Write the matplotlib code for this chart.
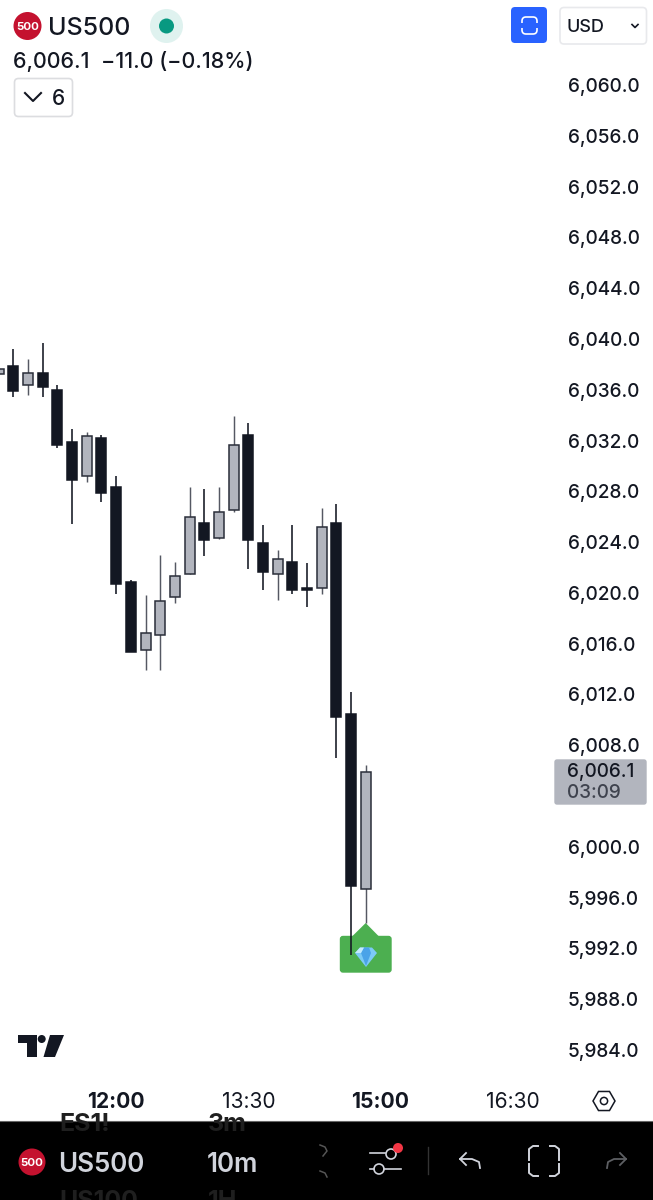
import matplotlib
matplotlib.use("Agg")
import matplotlib.pyplot as plt
from matplotlib.patches import FancyBboxPatch, Polygon, Circle, Ellipse, Rectangle, RegularPolygon

plt.rcParams['font.family'] = ['Inter', 'DejaVu Sans']
plt.rcParams['font.weight'] = 'medium'

# ---- data ----
candle_index = list(range(-1, 25))
opens = [6037.24, 6037.87, 6036.40, 6037.29, 6035.98, 6031.86, 6029.23, 6032.17, 6028.34, 6020.86, 6015.50,
         6016.71, 6019.70, 6021.49, 6025.48, 6024.32, 6026.50, 6032.46, 6023.95, 6021.49, 6022.46, 6020.36,
         6020.41, 6025.48, 6010.46, 5996.68]
highs = [6037.63, 6039.21, 6038.42, 6039.70, 6036.37, 6032.88, 6032.65, 6032.41, 6029.20, 6020.99, 6019.86,
         6022.96, 6022.46, 6028.36, 6028.16, 6028.36, 6033.93, 6033.40, 6025.37, 6023.38, 6025.37, 6022.38,
         6026.68, 6026.98, 6012.17, 6006.44]
lows = [6037.24, 6035.43, 6035.58, 6035.43, 6031.43, 6025.40, 6028.71, 6027.18, 6019.91, 6015.37, 6013.93,
        6013.93, 6019.23, 6021.49, 6022.90, 6024.22, 6026.39, 6021.88, 6020.20, 6019.41, 6019.89, 6018.91,
        6019.89, 6006.97, 5991.45, 5994.00]
closes = [6037.63, 6035.90, 6037.34, 6036.19, 6031.65, 6028.89, 6032.36, 6027.89, 6020.68, 6015.37, 6016.84,
          6019.36, 6021.35, 6025.94, 6024.19, 6026.35, 6031.65, 6024.19, 6021.67, 6022.64, 6020.20, 6020.23,
          6025.16, 6010.20, 5996.94, 6005.92]
price_ticks = [6060, 6056, 6052, 6048, 6044, 6040, 6036, 6032, 6028, 6024, 6020, 6016, 6012, 6008,
               6000, 5996, 5992, 5988, 5984]
time_tick_index = [7, 16, 25, 34]
time_tick_labels = ['12:00', '13:30', '15:00', '16:30']
bold_times = ['12:00', '15:00']

# ---- layout ----
W, H = 653, 1200
CHART_R, CHART_B = 553, 1080
px_per_unit = 965 / 76
step = 14.69
fs = lambda px: px * 72 / 100

fig = plt.figure(figsize=(W / 100, H / 100), dpi=100, facecolor='white')
ax = fig.add_axes([0, 1 - CHART_B / H, CHART_R / W, CHART_B / H], zorder=2)
ax.patch.set_alpha(0)
ui = fig.add_axes([0, 0, 1, 1], zorder=3)
ui.set_xlim(0, W); ui.set_ylim(H, 0); ui.axis('off')
ui.patch.set_alpha(0)
under = fig.add_axes([0, 0, 1, 1], zorder=1)
under.set_xlim(0, W); under.set_ylim(H, 0); under.axis('off')

ax.set_xlim(-13.3 / step, (CHART_R - 13.3) / step)
ax.set_ylim(6060 - (CHART_B - 85) / px_per_unit, 6060 + 85 / px_per_unit)
for s in ax.spines.values():
    s.set_visible(False)

DARK, LIGHT, EDGE = '#131722', '#b2b5be', '#2a2e39'
for i, o, h, l, c in zip(candle_index, opens, highs, lows, closes):
    up = c >= o
    ax.vlines(i, l, h, color='#555863' if up else '#131722', lw=1.05 if up else 1.15, zorder=2)
    ax.bar(i, abs(c - o), bottom=min(o, c), width=0.68, color=LIGHT if up else DARK,
           edgecolor=EDGE if up else DARK, linewidth=1.1, zorder=3)

ax.yaxis.tick_right()
ax.set_yticks(price_ticks)
ax.set_yticklabels([f'{p:,.1f}' for p in price_ticks])
ax.tick_params(axis='y', length=0, pad=10.5, labelsize=fs(19), labelcolor='#131722')
ax.set_xticks(time_tick_index)
ax.set_xticklabels(time_tick_labels)
ax.tick_params(axis='x', length=0, pad=9, labelsize=fs(21), labelcolor='#131722')
for t in ax.get_xticklabels():
    t.set_fontweight('bold' if t.get_text() in bold_times else 'normal')

# signal marker
under.add_patch(FancyBboxPatch((340.5, 936.5), 50.5, 35.5, boxstyle='round,pad=0,rounding_size=2.5', fc='#4caf50', ec='#4caf50', lw=1))
under.add_patch(Polygon([(365.7, 923), (352, 936.5), (379, 936.5)], fc='#4caf50', ec='none'))
ui.add_patch(Polygon([(355, 953), (360, 947.5), (372, 947.5), (377, 953), (366, 967)], fc='#7ccaf6', ec='none'))
ui.add_patch(Polygon([(361, 953), (364, 947.5), (369, 947.5), (371, 953), (366, 966)], fc='#4aa3e8', ec='none'))
ui.add_patch(Polygon([(355, 953), (360, 947.5), (364, 947.5), (361, 953)], fc='#c4ebfd', ec='none'))

# price label
ui.add_patch(FancyBboxPatch((555, 760), 91, 44, boxstyle='round,pad=0,rounding_size=2', fc=LIGHT, ec=LIGHT, lw=1))
ui.text(567, 770, '6,006.1', fontsize=fs(19), color='#131722', va='center_baseline', ha='left')
ui.text(567, 791, '03:09', fontsize=fs(19), color='#3f434e', va='center_baseline', ha='left')

# header
ui.add_patch(Circle((27.5, 26), 14, fc='#c4122f', ec='none'))
ui.text(27.5, 26, '500', color='white', fontsize=fs(11.5), fontweight='bold', ha='center', va='center_baseline')
ui.text(48, 26, 'US500', color='#131722', fontsize=fs(25), ha='left', va='center_baseline')
ui.add_patch(Ellipse((166.5, 26), 33, 34, fc='#dff2ef', ec='none'))
ui.add_patch(Circle((166.5, 26), 7.5, fc='#089981', ec='none'))
ui.text(13, 60, '6,006.1  \u221211.0 (\u22120.18%)', color='#131722', fontsize=fs(21.5), ha='left', va='center_baseline')
ui.add_patch(FancyBboxPatch((14.5, 78.5), 58, 38, boxstyle='round,pad=0,rounding_size=4', fc='white', ec='#dcdde0', lw=1.2))
ui.plot([25, 33, 41], [93, 101, 93], color='#131722', lw=1.5)
ui.text(58, 97, '6', color='#131722', fontsize=fs(21), ha='center', va='center_baseline')
ui.add_patch(FancyBboxPatch((511, 7), 36, 36, boxstyle='round,pad=0,rounding_size=4', fc='#2962ff', ec='none'))
ui.add_patch(FancyBboxPatch((522, 17), 15, 17, boxstyle='round,pad=0,rounding_size=4', fc='none', ec='white', lw=1.2))
ui.add_patch(Rectangle((518, 23), 24, 5, fc='#2962ff', ec='none', zorder=5))
ui.add_patch(FancyBboxPatch((560, 7.5), 86.5, 36.5, boxstyle='round,pad=0,rounding_size=4', fc='white', ec='#e8e9ec', lw=1.2))
ui.text(566, 25.5, 'USD', color='#131722', fontsize=fs(18), ha='left', va='center_baseline')
ui.plot([632, 635, 638], [24.5, 27.5, 24.5], color='#131722', lw=1.2)

# TradingView logo
ui.add_patch(Polygon([(18, 1035), (36.5, 1035), (36.5, 1057), (27, 1057), (27, 1042.5), (18, 1042.5)], fc='#131722', ec='none'))
ui.add_patch(Circle((41.7, 1039), 4, fc='#131722', ec='none'))
ui.add_patch(Polygon([(50, 1035), (64, 1035), (55, 1057), (43.5, 1057)], fc='#131722', ec='none'))

# scale settings icon
ui.add_patch(RegularPolygon((604, 1101), 6, radius=11, orientation=3.14159 / 6, fc='white', ec='#131722', lw=1.1))
ui.add_patch(Circle((604, 1101), 3.6, fc='white', ec='#131722', lw=1.1))

# bottom bar
bar = Rectangle((0, 1121), W, 79, fc='black', ec='none')
ui.add_patch(bar)
ui.plot([0, W], [1120.5, 1120.5], color='#666666', lw=0.8)
for x, y, s in [(59, 1122, 'ES1!'), (208, 1122, '3m'), (59, 1199, 'US100'), (208, 1199, '1H')]:
    t = ui.text(x, y, s, color='#1f1f1f', fontsize=fs(25), fontweight='bold', ha='left', va='center_baseline')
    t.set_clip_path(bar)
ui.add_patch(Circle((32, 1162), 13.5, fc='#c4122f', ec='none'))
ui.text(32, 1162, '500', color='white', fontsize=fs(11.5), fontweight='bold', ha='center', va='center_baseline')
ui.text(58, 1161.5, 'US500', color='#d1d4dc', fontsize=fs(26), fontweight='semibold', ha='left', va='center_baseline')
ui.text(207, 1161.5, '10m', color='#d1d4dc', fontsize=fs(26), fontweight='semibold', ha='left', va='center_baseline')
ui.plot([320, 325, 327, 323], [1145, 1147, 1151, 1156], color='#555555', lw=1.1)
ui.plot([320, 325, 327], [1171, 1173, 1177], color='#555555', lw=1.1)
ui.plot([370, 385], [1153, 1153], color='#d1d4dc', lw=1.2)
ui.add_patch(Circle((391, 1154), 5, fc='none', ec='#d1d4dc', lw=1.2))
ui.add_patch(Circle((398, 1148), 5, fc='#f23645', ec='none'))
ui.plot([370, 374], [1169, 1169], color='#d1d4dc', lw=1.2)
ui.add_patch(Circle((379, 1169), 5, fc='none', ec='#d1d4dc', lw=1.2))
ui.plot([384, 401], [1169, 1169], color='#d1d4dc', lw=1.2)
ui.plot([428, 428], [1147, 1174], color='#333333', lw=1)
ui.plot([466, 460, 466], [1153, 1159, 1165], color='#d1d4dc', lw=1.3)
ui.plot([460, 472, 479, 480], [1159, 1159, 1162, 1168], color='#d1d4dc', lw=1.3)
for xs, ys in [([529, 529, 533, 538], [1160, 1149, 1146, 1146]), ([550, 555, 559, 559], [1146, 1146, 1149, 1160]),
               ([529, 529, 533, 538], [1164, 1173, 1176, 1176]), ([550, 555, 559, 559], [1176, 1176, 1173, 1164])]:
    ui.plot(xs, ys, color='#d1d4dc', lw=1.4)
ui.plot([620, 626, 620], [1153, 1159, 1165], color='#5d5f63', lw=1.3)
ui.plot([626, 614, 608, 607], [1159, 1159, 1162, 1168], color='#5d5f63', lw=1.3)

fig.savefig('out.png', dpi=100, facecolor='white')
